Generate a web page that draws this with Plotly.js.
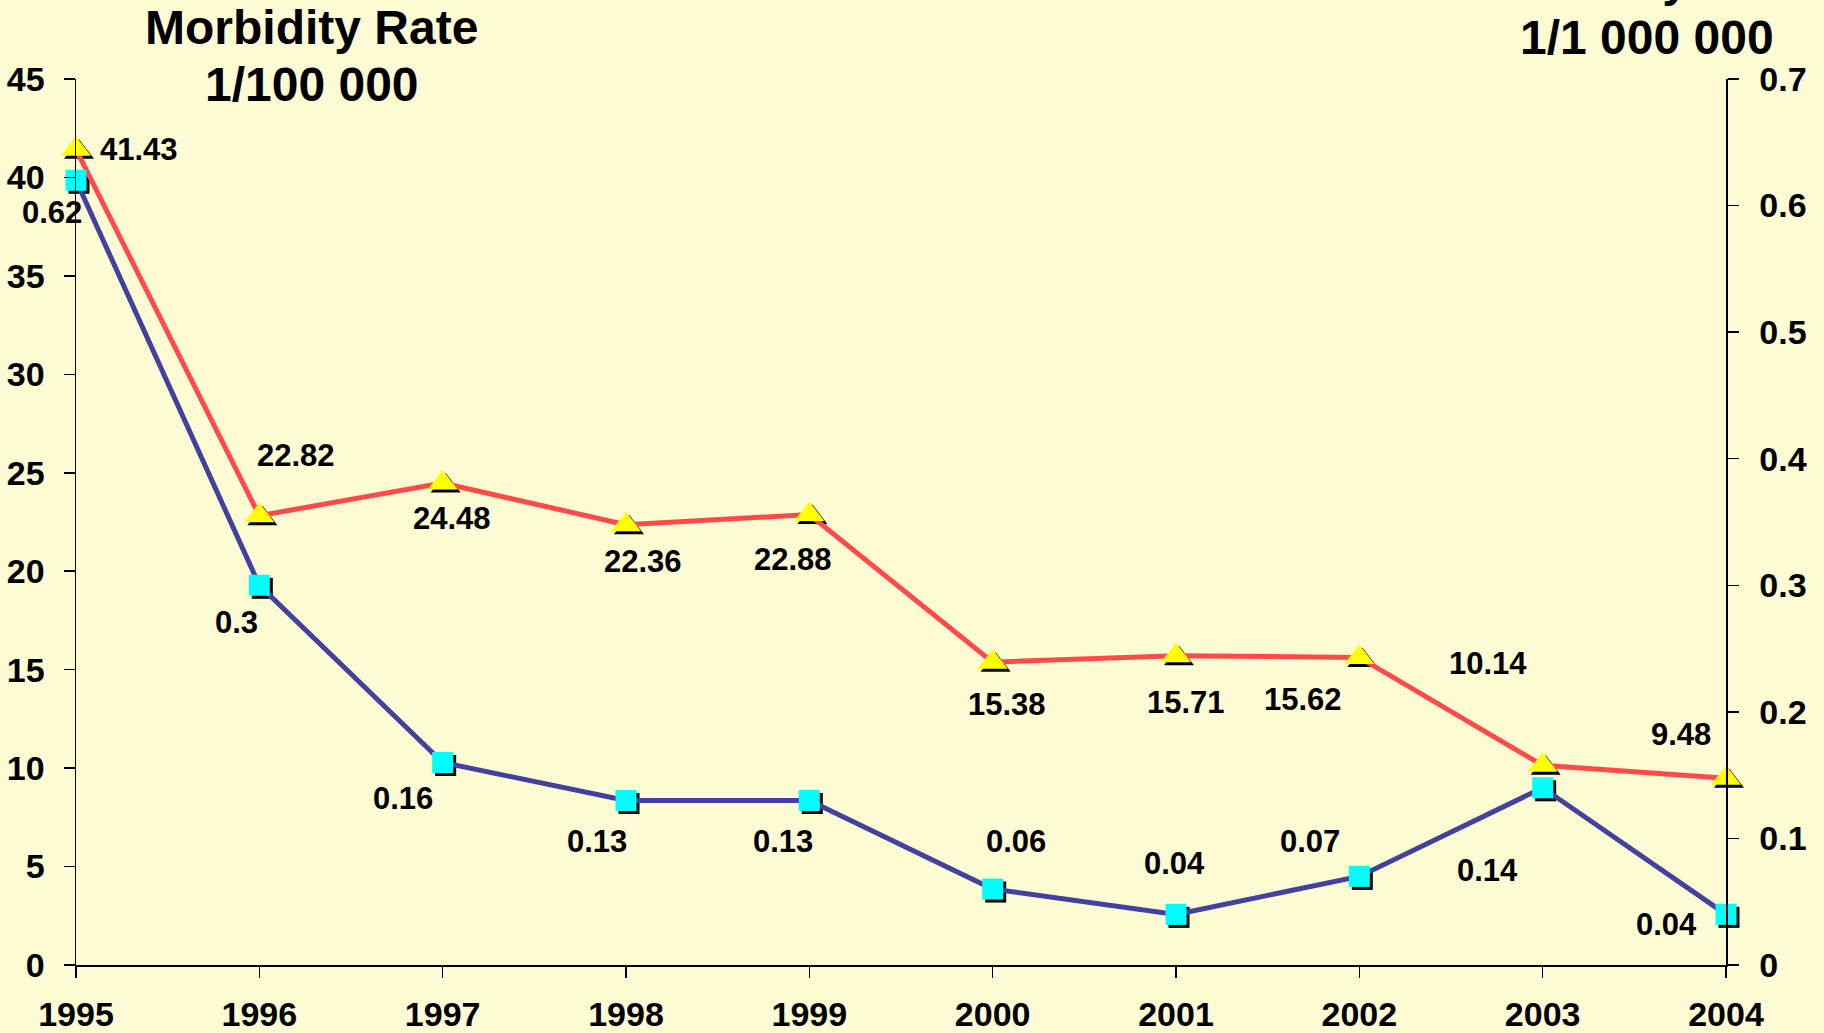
<!DOCTYPE html>
<html>
<head>
<meta charset="utf-8">
<script src="https://cdn.plot.ly/plotly-3.0.1.min.js"></script>
<style>
html,body{margin:0;padding:0;background:#FCFBD3;}
#chart{width:1824px;height:1033px;}
</style>
</head>
<body>
<div id="chart"></div>
<script>
// ---- data ----
const years = [1995, 1996, 1997, 1998, 1999, 2000, 2001, 2002, 2003, 2004];
const morbidity = [41.43, 22.82, 24.48, 22.36, 22.88, 15.38, 15.71, 15.62, 10.14, 9.48];
const mortality = [0.62, 0.3, 0.16, 0.13, 0.13, 0.06, 0.04, 0.07, 0.14, 0.04];
const leftTickVals = [0, 5, 10, 15, 20, 25, 30, 35, 40, 45];
const rightTickVals = [0, 0.1, 0.2, 0.3, 0.4, 0.5, 0.6, 0.7];
const leftTitle = ["Morbidity Rate", "1/100 000"];
const rightTitle = ["Mortality Rate", "1/1 000 000"];

// ---- label placement (pixel offsets: right, down) ----
const morbOffsets = [[63,0],[37,-60],[9,35],[17,37],[-16,45],[14,42],[10,47],[-56,42],[-55,-102],[-45,-44]];
const mortOffsets = [[-24,32],[-23,37],[-40,36],[-29,41],[-26,41],[23,-48],[-2,-51],[-49,-35],[-55,83],[-60,10]];

const W = 1824, H = 1033;
const L = 76, R = 95, T = 79, B = 65;
const pw = W - L - R, ph = H - T - B;
const sh = 3; // shadow offset in px
const FONT = "Arial, 'Liberation Sans', sans-serif";
const RED = "#FF4A4A", BLUE = "#42429E";
const TRI = 26, SQ = 21;

const traces = [
  // shadows (drawn first)
  {x: years, y: morbidity, xaxis: 'x', yaxis: 'y', mode: 'markers', type: 'scatter', cliponaxis: false,
   marker: {symbol: 'triangle-up', size: TRI, color: '#000'}, hoverinfo: 'skip', showlegend: false},
  {x: years, y: mortality, xaxis: 'x', yaxis: 'y4', mode: 'markers', type: 'scatter', cliponaxis: false,
   marker: {symbol: 'square', size: SQ, color: '#000'}, hoverinfo: 'skip', showlegend: false},
  // main series
  {x: years, y: morbidity, xaxis: 'x2', yaxis: 'y2', mode: 'lines+markers', type: 'scatter', cliponaxis: false,
   name: 'Morbidity Rate', line: {color: RED, width: 5},
   marker: {symbol: 'triangle-up', size: TRI, color: '#FFFF00'}, showlegend: false},
  {x: years, y: mortality, xaxis: 'x2', yaxis: 'y3', mode: 'lines+markers', type: 'scatter', cliponaxis: false,
   name: 'Mortality Rate', line: {color: BLUE, width: 5},
   marker: {symbol: 'square', size: SQ, color: '#00FFFF'}, showlegend: false}
];

const hidden = {visible: true, showline: false, showgrid: false, zeroline: false, showticklabels: false, ticks: ''};
const tickFont = {family: FONT, size: 34, color: '#000', weight: 'bold'};
const axisCommon = {showline: true, linecolor: '#000', linewidth: 1.5, showgrid: false, zeroline: false,
  ticks: 'outside', ticklen: 11, tickwidth: 1.5, tickcolor: '#000', tickfont: tickFont, fixedrange: true};

const xDomMain = [0, (pw - sh) / pw], xDomSh = [sh / pw, 1];
const yDomMain = [sh / ph, 1], yDomSh = [0, (ph - sh) / ph];

const layout = {
  width: W, height: H,
  margin: {l: L, r: R, t: T, b: B},
  paper_bgcolor: '#FCFBD3', plot_bgcolor: 'rgba(0,0,0,0)',
  showlegend: false, hovermode: false,
  font: {family: FONT, color: '#000'},
  xaxis: Object.assign({}, hidden, {domain: xDomSh, range: [1995, 2004], anchor: 'y'}),
  yaxis: Object.assign({}, hidden, {domain: yDomSh, range: [0, 45], anchor: 'x'}),
  yaxis4: Object.assign({}, hidden, {range: [0, 0.7], overlaying: 'y', anchor: 'x', side: 'right'}),
  xaxis2: Object.assign({}, axisCommon, {domain: xDomMain, range: [1995, 2004], anchor: 'y2',
    tickmode: 'array', tickvals: years, ticktext: years.map(String), ticklabelstandoff: 8}),
  yaxis2: Object.assign({}, axisCommon, {domain: yDomMain, range: [0, 45], anchor: 'x2',
    tickmode: 'array', tickvals: leftTickVals, ticktext: leftTickVals.map(String), ticklabelstandoff: 12}),
  yaxis3: Object.assign({}, axisCommon, {range: [0, 0.7], overlaying: 'y2', anchor: 'x2', side: 'right',
    tickmode: 'array', tickvals: rightTickVals, ticktext: rightTickVals.map(String), ticklabelstandoff: 14}),
  // inside half of the crossing ticks
  xaxis3: {domain: xDomMain, range: [1995, 2004], overlaying: 'x2', anchor: 'y2', showline: false, showgrid: false,
    zeroline: false, showticklabels: false, ticks: 'inside', ticklen: 11, tickwidth: 1.5, tickcolor: '#000',
    tickmode: 'array', tickvals: years, fixedrange: true},
  yaxis5: {range: [0, 45], overlaying: 'y2', anchor: 'x2', side: 'left', showline: false, showgrid: false,
    zeroline: false, showticklabels: false, ticks: 'inside', ticklen: 11, tickwidth: 1.5, tickcolor: '#000',
    tickmode: 'array', tickvals: leftTickVals, fixedrange: true},
  yaxis6: {range: [0, 0.7], overlaying: 'y2', anchor: 'x2', side: 'right', showline: false, showgrid: false,
    zeroline: false, showticklabels: false, ticks: 'inside', ticklen: 11, tickwidth: 1.5, tickcolor: '#000',
    tickmode: 'array', tickvals: rightTickVals, fixedrange: true},
  annotations: []
};

const labelFont = {family: FONT, size: 31, color: '#000', weight: 'bold'};
morbidity.forEach((v, i) => {
  layout.annotations.push({x: years[i], y: v, xref: 'x2', yref: 'y2', text: String(v), showarrow: false,
    xanchor: 'center', yanchor: 'middle', xshift: morbOffsets[i][0], yshift: -morbOffsets[i][1], font: labelFont});
});
mortality.forEach((v, i) => {
  layout.annotations.push({x: years[i], y: v, xref: 'x2', yref: 'y3', text: String(v), showarrow: false,
    xanchor: 'center', yanchor: 'middle', xshift: mortOffsets[i][0], yshift: -mortOffsets[i][1], font: labelFont});
});

const titleFont = {family: FONT, size: 48, color: '#000', weight: 'bold'};
function px2paperX(px) { return (px - L) / pw; }
function px2paperY(py) { return 1 + (T - py) / ph; }
layout.annotations.push(
  {xref: 'paper', yref: 'paper', x: px2paperX(311), y: px2paperY(28), text: leftTitle[0], showarrow: false,
   xanchor: 'center', yanchor: 'middle', font: titleFont},
  {xref: 'paper', yref: 'paper', x: px2paperX(312), y: px2paperY(84), text: leftTitle[1], showarrow: false,
   xanchor: 'center', yanchor: 'middle', font: titleFont},
  {xref: 'paper', yref: 'paper', x: px2paperX(1647), y: px2paperY(-21), text: rightTitle[0], showarrow: false,
   xanchor: 'center', yanchor: 'middle', font: titleFont},
  {xref: 'paper', yref: 'paper', x: px2paperX(1647), y: px2paperY(37), text: rightTitle[1], showarrow: false,
   xanchor: 'center', yanchor: 'middle', font: titleFont}
);

Plotly.newPlot('chart', traces, layout, {displayModeBar: false, staticPlot: true});
</script>
</body>
</html>
